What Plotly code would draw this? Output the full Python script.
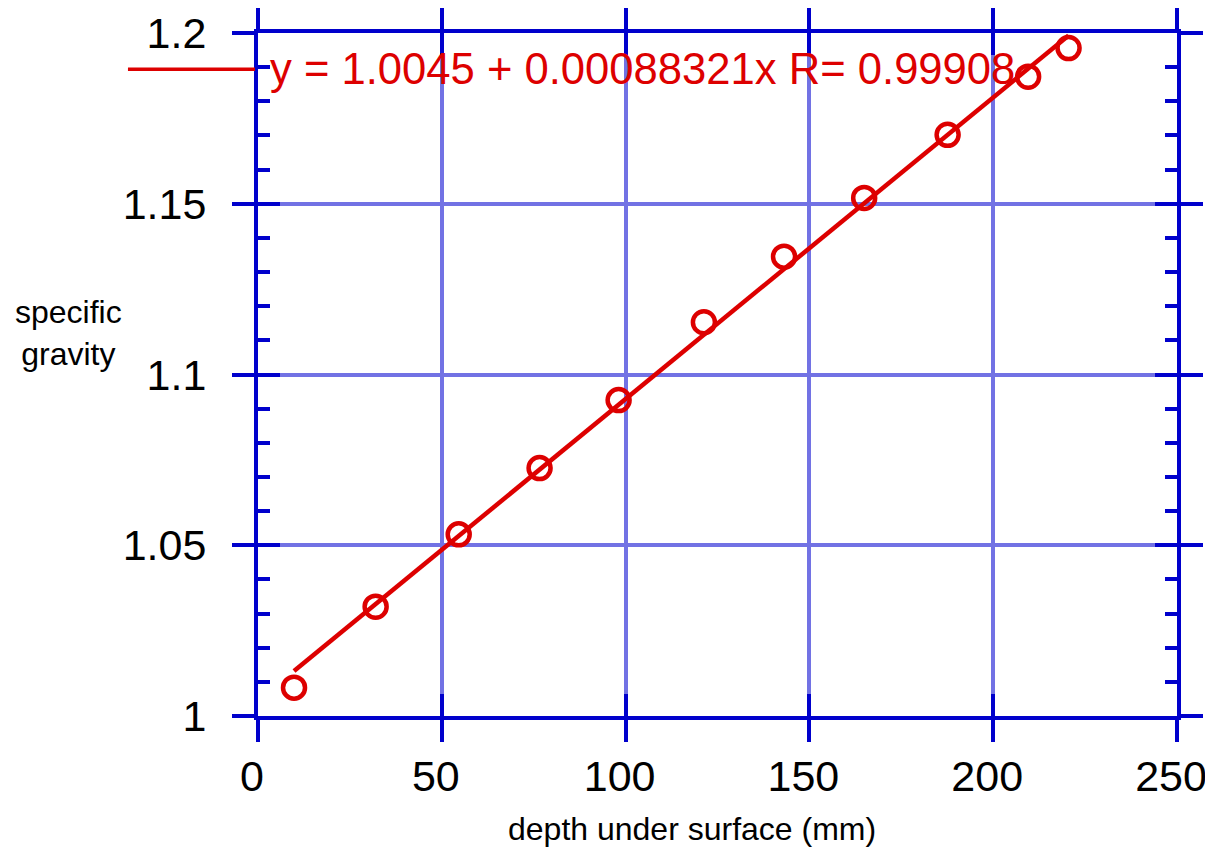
import plotly.graph_objects as go

# ---- data ----
depth_mm = [9.8, 32.0, 54.6, 76.6, 98.1, 121.3, 143.1, 164.9, 187.6, 209.5, 220.5]
specific_gravity = [1.0083, 1.0320, 1.0532, 1.0726, 1.0925, 1.1153, 1.1345, 1.1517, 1.1702, 1.1872, 1.1956]

fit_intercept = 1.0045
fit_slope = 0.00088321
fit_r = 0.99908

x_tickvals = [0, 50, 100, 150, 200, 250]
x_ticktext = ["0", "50", "100", "150", "200", "250"]
y_tickvals = [1.0, 1.05, 1.1, 1.15, 1.2]
y_ticktext = ["1", "1.05", "1.1", "1.15", "1.2"]
y_minorvals = [1.01, 1.02, 1.03, 1.04, 1.06, 1.07, 1.08, 1.09,
               1.11, 1.12, 1.13, 1.14, 1.16, 1.17, 1.18, 1.19]

x_title = "depth under surface (mm)"
y_title = "specific<br>gravity"
fit_label = "y = 1.0045 + 0.00088321x R= 0.99908"

# ---- styles ----
RED = "#dd0000"
BLUE = "#0000cc"
GRID = "#7272e4"
FONT = "Arial, Liberation Sans, Helvetica, sans-serif"

fit_x = [min(depth_mm), max(depth_mm)]
fit_y = [fit_intercept + fit_slope * v for v in fit_x]

fig = go.Figure()
fig.add_trace(go.Scatter(x=fit_x, y=fit_y, mode="lines",
                         line=dict(color=RED, width=4.5),
                         showlegend=False, hoverinfo="skip", cliponaxis=False))
fig.add_trace(go.Scatter(x=depth_mm, y=specific_gravity, mode="markers",
                         marker=dict(symbol="circle-open", size=22, color=RED,
                                     line=dict(color=RED, width=4.5)),
                         showlegend=False, cliponaxis=False))
# invisible trace to anchor the overlay axes (inside ticks)
fig.add_trace(go.Scatter(x=depth_mm, y=specific_gravity, mode="markers",
                         marker=dict(opacity=0), xaxis="x2", yaxis="y2",
                         showlegend=False, hoverinfo="skip"))

axis_common = dict(showline=True, linecolor=BLUE, linewidth=4,
                   tickcolor=BLUE, tickwidth=4, zeroline=False, automargin=False)

# the page body adds an 8px offset, so the figure is 8px smaller in each direction
fig.update_layout(
    template="none",
    width=1205, height=843,
    margin=dict(l=250, r=36, t=25, b=135, autoexpand=False),
    paper_bgcolor="white", plot_bgcolor="white",
    font=dict(family=FONT, color="black"),
    xaxis=dict(range=[0, 250], tickmode="array", tickvals=x_tickvals, ticktext=x_ticktext,
               ticks="outside", ticklen=22, mirror="ticks",
               showgrid=True, gridcolor=GRID, gridwidth=3.5,
               tickfont=dict(size=43, family=FONT, color="black"),
               ticklabelstandoff=-3, ticklabelshift=-6, **axis_common),
    yaxis=dict(range=[1.0, 1.2], tickmode="array", tickvals=y_tickvals, ticktext=y_ticktext,
               ticks="outside", ticklen=22, mirror="ticks",
               showgrid=True, gridcolor=GRID, gridwidth=3.5,
               tickfont=dict(size=43, family=FONT, color="black"),
               ticklabelstandoff=17, **axis_common),
    xaxis2=dict(range=[0, 250], overlaying="x", tickmode="array", tickvals=x_tickvals,
                ticks="inside", ticklen=22, mirror="ticks", showticklabels=False,
                showgrid=False, **axis_common),
    yaxis2=dict(range=[1.0, 1.2], overlaying="y", tickmode="array", tickvals=y_tickvals,
                ticks="inside", ticklen=22, mirror="ticks", showticklabels=False,
                showgrid=False,
                minor=dict(tickmode="array", tickvals=y_minorvals, ticks="inside",
                           ticklen=12, tickcolor=BLUE, tickwidth=4, showgrid=False),
                **axis_common),
    showlegend=False,
)

fig.add_annotation(text=x_title, xref="paper", yref="paper", x=0.472, y=-0.165,
                   xanchor="center", yanchor="middle", showarrow=False,
                   font=dict(size=32, family=FONT, color="black"))
fig.add_annotation(text=y_title, xref="paper", yref="paper", x=-0.2057, y=0.561,
                   xanchor="center", yanchor="middle", showarrow=False, align="center",
                   font=dict(size=32, family=FONT, color="black"))

# fit legend: line sample + label
fig.add_shape(type="line", xref="paper", yref="paper", x0=-0.1415, x1=-0.0033,
              y0=0.947, y1=0.947, line=dict(color=RED, width=3.5))
fig.add_annotation(text=fit_label, xref="paper", yref="paper", x=0.0109, y=0.948,
                   xanchor="left", yanchor="middle", showarrow=False,
                   font=dict(size=43.6, family=FONT, color=RED))

fig.write_html("out.html")
